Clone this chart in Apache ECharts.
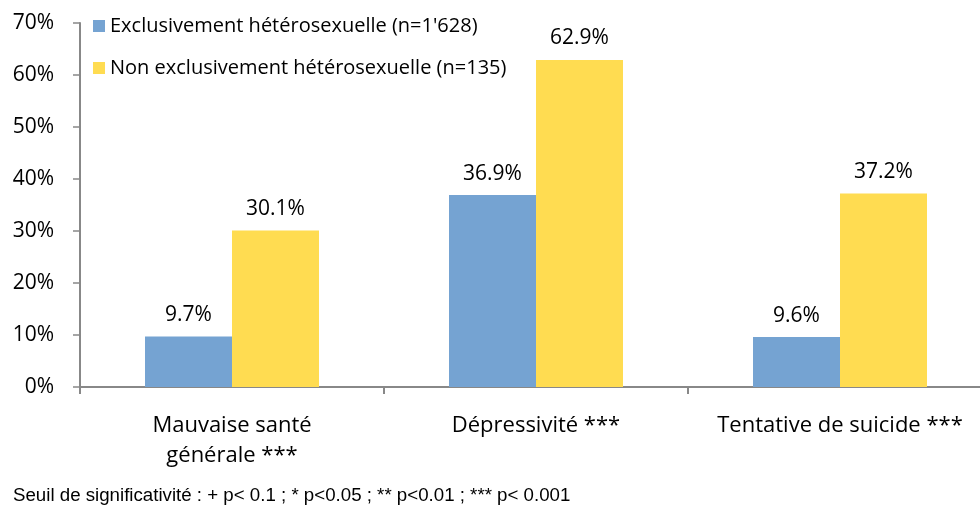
<!DOCTYPE html>
<html><head><meta charset="utf-8">
<script src="https://cdn.jsdelivr.net/npm/echarts@6/dist/echarts.min.js"></script>
<style>html,body{margin:0;padding:0;background:#fff}#c{width:980px;height:506px}</style>
</head><body><div id="c"></div>
<script>
const categories = ['Mauvaise santé\ngénérale ***', 'Dépressivité ***', 'Tentative de suicide ***'];
const seriesNames = ["Exclusivement hétérosexuelle (n=1'628)", 'Non exclusivement hétérosexuelle (n=135)'];
const exclusive = [9.7, 36.9, 9.6];
const nonExclusive = [30.1, 62.9, 37.2];
const yTicks = [0, 10, 20, 30, 40, 50, 60, 70];
const footnote = 'Seuil de significativité : + p< 0.1 ; * p<0.05 ; ** p<0.01 ; *** p< 0.001';

const font = 'Open Sans';
const chart = echarts.init(document.getElementById('c'), null, {renderer: 'canvas'});
const labelCfg = {
  show: true, position: 'top', distance: 11,
  formatter: p => p.value.toFixed(1) + '%',
  color: '#000', fontFamily: font, fontSize: 21
};
chart.setOption({
  animation: false,
  textStyle: {fontFamily: font},
  legend: {
    orient: 'vertical', left: 88, top: 11, itemWidth: 12, itemHeight: 12, itemGap: 22,
    icon: 'rect',
    textStyle: {fontFamily: font, fontSize: 20, color: '#000'},
    data: seriesNames
  },
  grid: {left: 80, top: 23, right: -12, bottom: 119, containLabel: false, outerBoundsMode: 'none'},
  xAxis: {
    type: 'category', data: categories,
    axisLine: {lineStyle: {color: '#888', width: 2}},
    axisTick: {show: true, length: 7, lineStyle: {color: '#888', width: 2}},
    axisLabel: {interval: 0, color: '#000', fontFamily: font, fontSize: 22, margin: 24, lineHeight: 30}
  },
  yAxis: {
    type: 'value', min: 0, max: 70, interval: 10,
    axisLine: {show: true, lineStyle: {color: '#888', width: 2}},
    axisTick: {show: true, length: 7, lineStyle: {color: '#888', width: 1.5}},
    splitLine: {show: false},
    axisLabel: {color: '#000', fontFamily: font, fontSize: 21, margin: 26,
      formatter: v => yTicks.includes(v) ? v + '%' : ''}
  },
  series: [
    {name: seriesNames[0], type: 'bar', data: exclusive, barWidth: 87, barGap: '0%',
     itemStyle: {color: '#75A3D2'}, label: labelCfg},
    {name: seriesNames[1], type: 'bar', data: nonExclusive, barWidth: 87, barGap: '0%',
     itemStyle: {color: '#FFDC51'}, label: labelCfg}
  ],
  graphic: [{
    type: 'text', left: 13, top: 486,
    style: {text: footnote, fill: '#000', font: '18.7px "Liberation Sans", Arial, sans-serif'}
  }]
});
</script></body></html>
